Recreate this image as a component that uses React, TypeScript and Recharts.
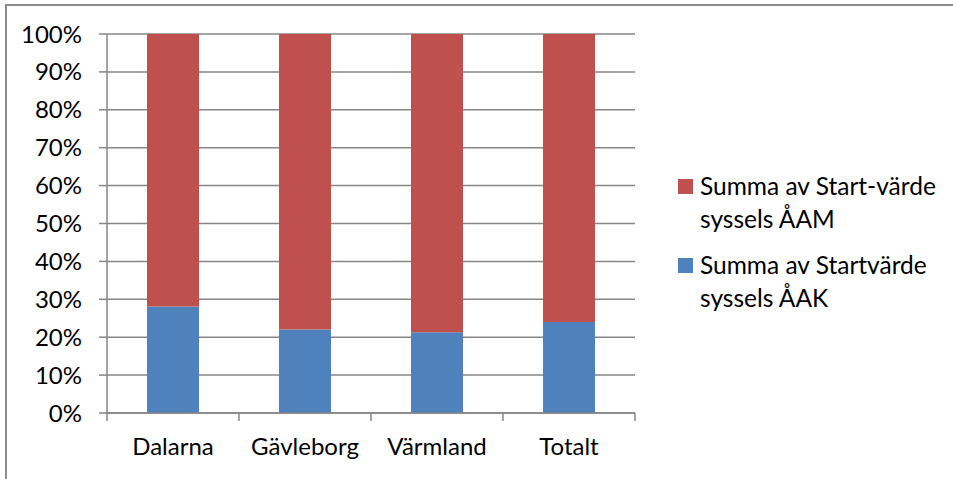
import { BarChart, Bar, XAxis, YAxis, CartesianGrid, Legend } from "recharts";

const regions = ["Dalarna", "Gävleborg", "Värmland", "Totalt"];
const shareAAK = [28.1, 22.0, 21.3, 24.0];
const shareAAM = [71.9, 78.0, 78.7, 76.0];
const yTicks = [0, 10, 20, 30, 40, 50, 60, 70, 80, 90, 100];

const nameAAM = "Summa av Start-värde syssels ÅAM";
const nameAAK = "Summa av Startvärde syssels ÅAK";
const legendItems = [
  { lines: ["Summa av Start-värde", "syssels ÅAM"], color: "#C0504D" },
  { lines: ["Summa av Startvärde", "syssels ÅAK"], color: "#4F81BD" },
];

const data = regions.map((region, i) => ({
  region,
  aak: shareAAK[i],
  aam: shareAAM[i],
}));

const FONT = "Lato, 'Liberation Sans', sans-serif";
const PLOT_LEFT = 107;
const PLOT_RIGHT = 635;
const HALF_BAND = (PLOT_RIGHT - PLOT_LEFT) / regions.length / 2;

function CategoryTick(props: any) {
  const { x, y, payload, index } = props;
  const last = index === regions.length - 1;
  return (
    <g>
      <line x1={x - HALF_BAND} x2={x - HALF_BAND} y1={y - 8} y2={y} stroke="#868686" strokeWidth={1.5} />
      {last && (
        <line x1={x + HALF_BAND} x2={x + HALF_BAND} y1={y - 8} y2={y} stroke="#868686" strokeWidth={1.5} />
      )}
      <text x={x} y={y + 34} textAnchor="middle" fill="#000" fontSize={24} fontFamily={FONT}>
        {payload.value}
      </text>
    </g>
  );
}

function LegendBox() {
  return (
    <div style={{ fontFamily: FONT, fontSize: 24.5, color: "#000" }}>
      {legendItems.map((item) => (
        <div key={item.color} style={{ display: "flex", alignItems: "flex-start", marginBottom: 13 }}>
          <div style={{ width: 15, height: 15, background: item.color, marginTop: 10, marginRight: 7, flexShrink: 0 }} />
          <div style={{ lineHeight: "33px", whiteSpace: "nowrap" }}>
            {item.lines.map((l) => (
              <div key={l}>{l}</div>
            ))}
          </div>
        </div>
      ))}
    </div>
  );
}

export default function App() {
  return (
    <div style={{ position: "absolute", left: 0, top: 0, width: 953, height: 479, overflow: "hidden", background: "#fff" }}>
      <div
        style={{
          position: "absolute",
          left: 5,
          top: 4,
          width: 980,
          height: 500,
          border: "2px solid #8c8c8c",
          boxSizing: "border-box",
        }}
      />
      <div style={{ position: "absolute", left: 0, top: 0 }}>
        <BarChart
          width={953}
          height={479}
          data={data}
          margin={{ top: 34, right: 318, bottom: 0, left: 0 }}
          barSize={52}
        >
          <CartesianGrid vertical={false} stroke="#868686" strokeWidth={1.5} />
          <XAxis
            dataKey="region"
            height={66}
            axisLine={{ stroke: "#868686", strokeWidth: 1.5 }}
            tickLine={false}
            tick={<CategoryTick />}
            interval={0}
          />
          <YAxis
            width={107}
            domain={[0, 100]}
            ticks={yTicks}
            tickFormatter={(v: number) => `${v}%`}
            axisLine={{ stroke: "#868686", strokeWidth: 1.5 }}
            tickLine={{ stroke: "#868686", strokeWidth: 1.5 }}
            tickSize={8}
            tickMargin={17}
            tick={{ fill: "#000", fontSize: 24, fontFamily: FONT }}
          />
          <Legend
            layout="horizontal"
            verticalAlign="middle"
            align="center"
            content={<LegendBox />}
            wrapperStyle={{ left: 678, top: 169, width: 275 }}
          />
          <Bar dataKey="aak" name={nameAAK} stackId="s" fill="#4F81BD" isAnimationActive={false} />
          <Bar dataKey="aam" name={nameAAM} stackId="s" fill="#C0504D" isAnimationActive={false} />
        </BarChart>
      </div>
    </div>
  );
}
